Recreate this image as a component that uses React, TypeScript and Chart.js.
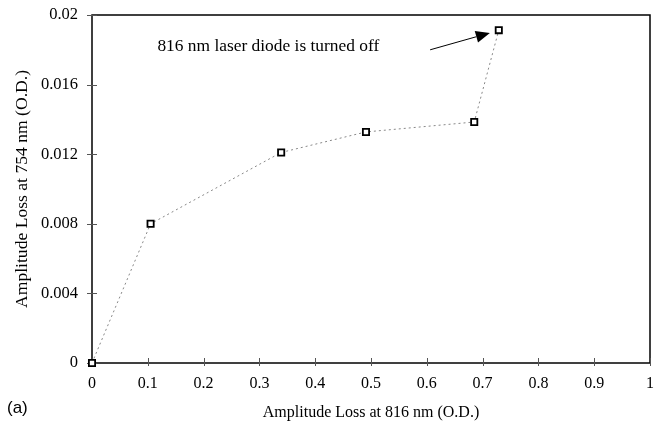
import React, { useEffect, useRef } from "react";
import { Chart, registerables } from "chart.js";

Chart.register(...registerables);

// Data
const xValues: number[] = [0, 0.105, 0.339, 0.491, 0.685, 0.729];
const yValues: number[] = [0, 0.008, 0.0121, 0.01328, 0.01385, 0.01913];

const xTickValues: number[] = [0, 0.1, 0.2, 0.3, 0.4, 0.5, 0.6, 0.7, 0.8, 0.9, 1];
const yTickValues: number[] = [0, 0.004, 0.008, 0.012, 0.016, 0.02];

const xTitle = "Amplitude Loss at 816 nm (O.D.)";
const yTitle = "Amplitude Loss at 754 nm (O.D.)";
const annotationText = "816 nm laser diode is turned off";
const annotationAt: number[] = [0.316, 0.01822];
const arrowFrom: number[] = [0.606, 0.018];
const arrowTo: number[] = [0.713, 0.01897];
const panelLabel = "(a)";

const SERIF = "'Liberation Serif', 'Times New Roman', serif";
const SANS = "'Liberation Sans', Arial, sans-serif";

const framePlugin = {
  id: "frame",
  beforeDatasetsDraw(chart: any) {
    const { ctx, chartArea, scales } = chart;
    const xs = scales.x;
    const ys = scales.y;
    ctx.save();
    // box
    ctx.strokeStyle = "#000";
    ctx.lineWidth = 1.5;
    ctx.strokeRect(chartArea.left, chartArea.top, chartArea.right - chartArea.left, chartArea.bottom - chartArea.top);
    // ticks crossing the axes
    ctx.lineWidth = 1;
    ctx.strokeStyle = "#555";
    ctx.beginPath();
    xTickValues.forEach((v) => {
      const px = Math.round(xs.getPixelForValue(v)) + 0.5;
      ctx.moveTo(px, chartArea.bottom - 5);
      ctx.lineTo(px, chartArea.bottom + 3);
    });
    yTickValues.forEach((v) => {
      const py = Math.round(ys.getPixelForValue(v)) + 0.5;
      ctx.moveTo(chartArea.left - 5, py);
      ctx.lineTo(chartArea.left + 5, py);
    });
    ctx.stroke();
    ctx.restore();
  },
  afterDraw(chart: any) {
    const { ctx, scales } = chart;
    const xs = scales.x;
    const ys = scales.y;
    ctx.save();
    // annotation text
    ctx.fillStyle = "#000";
    ctx.font = `17.4px ${SERIF}`;
    ctx.textAlign = "center";
    ctx.textBaseline = "middle";
    ctx.fillText(annotationText, xs.getPixelForValue(annotationAt[0]), ys.getPixelForValue(annotationAt[1]));

    // arrow
    const x1 = xs.getPixelForValue(arrowFrom[0]);
    const y1 = ys.getPixelForValue(arrowFrom[1]);
    const x2 = xs.getPixelForValue(arrowTo[0]);
    const y2 = ys.getPixelForValue(arrowTo[1]);
    const ang = Math.atan2(y2 - y1, x2 - x1);
    const headLen = 14;
    const headW = 6;
    const bx = x2 - headLen * Math.cos(ang);
    const by = y2 - headLen * Math.sin(ang);
    ctx.strokeStyle = "#000";
    ctx.lineWidth = 1;
    ctx.beginPath();
    ctx.moveTo(x1, y1);
    ctx.lineTo(bx, by);
    ctx.stroke();
    ctx.beginPath();
    ctx.moveTo(x2, y2);
    ctx.lineTo(bx + headW * Math.sin(ang), by - headW * Math.cos(ang));
    ctx.lineTo(bx - headW * Math.sin(ang), by + headW * Math.cos(ang));
    ctx.closePath();
    ctx.fill();

    // panel label
    ctx.font = `17px ${SANS}`;
    ctx.textAlign = "left";
    ctx.textBaseline = "middle";
    ctx.fillText(panelLabel, 7, 408);
    ctx.restore();
  },
};

const zeroPad = (s: any) => {
  s.paddingTop = 0;
  s.paddingBottom = 0;
  s.paddingLeft = 0;
  s.paddingRight = 0;
};

export default function App() {
  const ref = useRef<HTMLCanvasElement | null>(null);
  useEffect(() => {
    if (!ref.current) return;
    const chart = new Chart(ref.current, {
      type: "scatter",
      data: {
        datasets: [
          {
            data: xValues.map((x, i) => ({ x, y: yValues[i] })),
            showLine: true,
            clip: false,
            borderColor: "#888",
            borderWidth: 1,
            borderDash: [2, 3],
            pointStyle: "rect",
            pointRadius: 4.4,
            pointBorderColor: "#000",
            pointBackgroundColor: "#fff",
            pointBorderWidth: 1.8,
          } as any,
        ],
      },
      options: {
        animation: false,
        responsive: false,
        devicePixelRatio: 1,
        layout: { padding: { left: 0, top: 15, right: 10, bottom: 0 } },
        plugins: { legend: { display: false }, tooltip: { enabled: false } },
        scales: {
          x: {
            type: "linear",
            min: 0,
            max: 1,
            afterFit: (s: any) => {
              s.height = 69;
              zeroPad(s);
            },
            afterBuildTicks: (s: any) => {
              s.ticks = xTickValues.map((v) => ({ value: v }));
            },
            grid: { display: false, drawTicks: false },
            border: { display: false },
            ticks: {
              padding: 11,
              color: "#000",
              maxRotation: 0,
              font: { family: SERIF, size: 16 },
              callback: (v: any) => String(Math.round(Number(v) * 10) / 10),
            },
            title: {
              display: true,
              text: xTitle,
              color: "#000",
              font: { family: SERIF, size: 16 },
              padding: { top: 0, bottom: 10 },
            },
          },
          y: {
            type: "linear",
            min: 0,
            max: 0.02,
            afterFit: (s: any) => {
              s.width = 92;
              zeroPad(s);
            },
            afterBuildTicks: (s: any) => {
              s.ticks = yTickValues.map((v) => ({ value: v }));
            },
            grid: { display: false, drawTicks: false },
            border: { display: false },
            ticks: {
              padding: 14,
              color: "#000",
              font: { family: SERIF, size: 16.5 },
              callback: (v: any) => {
                const n = Math.round(Number(v) * 1000) / 1000;
                return n === 0 ? "0" : String(n);
              },
            },
            title: {
              display: true,
              text: yTitle,
              color: "#000",
              font: { family: SERIF, size: 17.6 },
              padding: { top: 12, bottom: 0 },
            },
          },
        },
      },
      plugins: [framePlugin],
    } as any);
    return () => chart.destroy();
  }, []);
  return (
    <div style={{ position: "fixed", left: 0, top: 0, width: 660, height: 432, background: "#fff" }}>
      <canvas ref={ref} width={660} height={432} style={{ display: "block" }} />
    </div>
  );
}
